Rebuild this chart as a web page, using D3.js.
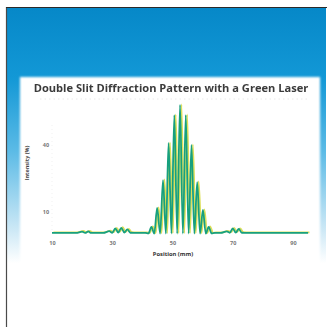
<!DOCTYPE html>
<html><head><meta charset="utf-8">
<script src="https://cdn.jsdelivr.net/npm/d3@7"></script>
<style>html,body{margin:0;padding:0;background:#fff;}svg{display:block;}</style>
</head><body>
<script>
const title = "Double Slit Diffraction Pattern with a Green Laser";
const xLabel = "Position (mm)";
const yLabel = "Intensity (%)";
const xTicks = [10, 30, 50, 70, 90];
const yTicks = [10, 40];
// positions (mm) and intensities (%)
const positions = [10, 18, 20, 21, 22, 23, 24, 27, 29, 30, 31, 32, 33, 34, 35, 36, 38, 41, 42, 43, 43.95, 44.9, 45.9, 46.85, 47.8, 48.7, 49.65, 50.6, 51.55, 52.5, 53.45, 54.4, 55.35, 56.3, 57.25, 58.2, 59.15, 60.1, 61.05, 62.0, 63, 64, 66, 68, 69, 70, 71, 72, 73, 75, 80, 90, 95];
const intensity = [0.6, 0.6, 1.2, 0.6, 1.3, 0.6, 0.6, 0.6, 1.4, 0.7, 2.6, 0.8, 2.9, 0.8, 2.2, 0.7, 0.6, 0.6, 0.4, 3.3, 0.3, 11.8, 0.3, 24.3, 0.3, 40.9, 0.3, 53.4, 0.3, 57.9, 0.3, 53.4, 0.3, 40.0, 0.3, 23.4, 0.3, 10.9, 0.3, 3.3, 0.4, 0.6, 0.6, 1.3, 0.7, 2.6, 0.8, 2.4, 0.7, 0.6, 0.6, 0.6, 0.6];

const W = 327, H = 327;
const svg = d3.select("body").append("svg").attr("width", W).attr("height", H);
const defs = svg.append("defs");
const g1 = defs.append("linearGradient").attr("id", "bg").attr("x1", 0).attr("x2", 0).attr("y1", 0).attr("y2", 1);
g1.append("stop").attr("offset", "0%").attr("stop-color", "#0688c8");
g1.append("stop").attr("offset", "22%").attr("stop-color", "#1398d6");
g1.append("stop").attr("offset", "45%").attr("stop-color", "#5cbbe6");
g1.append("stop").attr("offset", "70%").attr("stop-color", "#cfe9f6");
g1.append("stop").attr("offset", "80%").attr("stop-color", "#ffffff");
g1.append("stop").attr("offset", "100%").attr("stop-color", "#ffffff");
const blur = defs.append("filter").attr("id", "soft").attr("x", "-5%").attr("y", "-5%").attr("width", "110%").attr("height", "110%");
blur.append("feGaussianBlur").attr("stdDeviation", 0.8);
const tblur = defs.append("filter").attr("id", "tsoft");
tblur.append("feGaussianBlur").attr("stdDeviation", 0.35);

svg.append("rect").attr("x", 0).attr("y", 0).attr("width", W).attr("height", H).attr("fill", "#fff");
svg.append("rect").attr("x", 7).attr("y", 8).attr("width", 319).attr("height", 319).attr("fill", "url(#bg)");
svg.append("rect").attr("x", 20).attr("y", 77).attr("width", 300).attr("height", 190).attr("fill", "#fff").attr("filter", "url(#soft)");
svg.append("line").attr("x1", 6.5).attr("x2", 6.5).attr("y1", 7).attr("y2", 327).attr("stroke", "#4a4a4a").attr("stroke-width", 1.2);
svg.append("line").attr("x1", 6).attr("x2", 327).attr("y1", 7.5).attr("y2", 7.5).attr("stroke", "#2a2a2a").attr("stroke-width", 1.2);

const x = d3.scaleLinear().domain([10, 90]).range([52, 293]);
const y = d3.scaleLinear().domain([0, 60]).range([234.3, 100.3]);

svg.append("text").attr("x", 171).attr("y", 92).attr("text-anchor", "middle")
  .attr("font-family", "Open Sans").attr("font-weight", "bold").attr("font-size", 11.1)
  .attr("fill", "#3a3a3a").attr("filter", "url(#tsoft)").text(title);
svg.append("line").attr("x1", 40).attr("x2", 310).attr("y1", 99).attr("y2", 99)
  .attr("stroke", "#e4e4e4").attr("stroke-width", 0.8).attr("stroke-dasharray", "1.5,3");

// faint y axis line
svg.append("line").attr("x1", 52).attr("x2", 52).attr("y1", 125).attr("y2", 230)
  .attr("stroke", "#eeeeee").attr("stroke-width", 0.8).attr("stroke-dasharray", "1,3");

const xAxis = svg.append("g").attr("transform", "translate(0,243)")
  .call(d3.axisBottom(x).tickValues(xTicks).tickSize(0).tickPadding(0));
xAxis.select(".domain").remove();
xAxis.selectAll("text").attr("font-family", "Open Sans").attr("font-weight", "bold")
  .attr("font-size", 5.5).attr("fill", "#777").attr("dy", "0.35em");

const yAxis = svg.append("g").attr("transform", "translate(46,0)")
  .call(d3.axisLeft(y).tickValues(yTicks).tickSize(0).tickPadding(0));
yAxis.select(".domain").remove();
yAxis.selectAll("text").attr("font-family", "Open Sans").attr("font-weight", "bold")
  .attr("font-size", 5.5).attr("fill", "#777").attr("text-anchor", "middle");

svg.append("text").attr("x", 173).attr("y", 256).attr("text-anchor", "middle")
  .attr("font-family", "Open Sans").attr("font-weight", "bold").attr("font-size", 5.8)
  .attr("fill", "#333").text(xLabel);
svg.append("text").attr("transform", "translate(29,163) rotate(-90)").attr("text-anchor", "middle")
  .attr("font-family", "Open Sans").attr("font-weight", "bold").attr("font-size", 5.5)
  .attr("fill", "#444").text(yLabel);

const data = positions.map((p, i) => ({p, v: intensity[i]}));
const line = d3.line().x(d => x(d.p)).y(d => y(d.v)).curve(d3.curveMonotoneX);
svg.append("path").datum(data).attr("d", line).attr("fill", "none")
  .attr("stroke", "#dcdf5a").attr("stroke-width", 1.8).attr("transform", "translate(1.4,-0.6)");
svg.append("path").datum(data).attr("d", line).attr("fill", "none")
  .attr("stroke", "#17a07e").attr("stroke-width", 1.8);
</script>
</body></html>
